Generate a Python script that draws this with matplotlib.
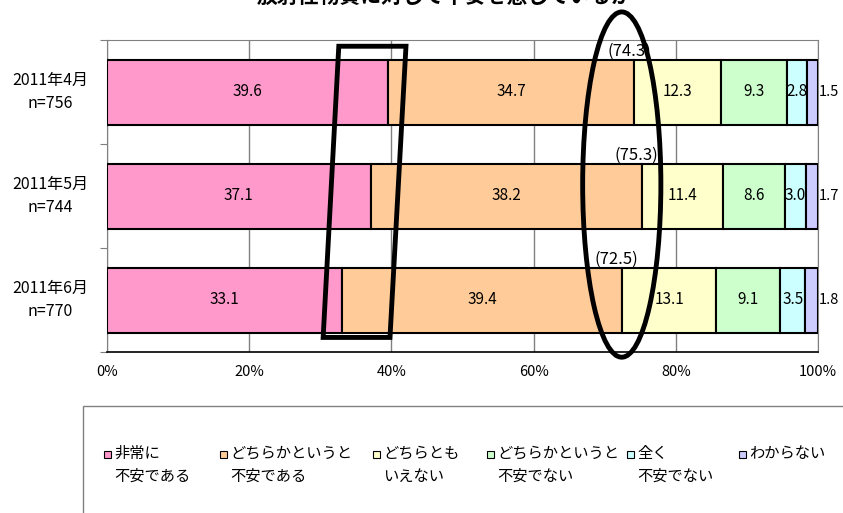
import numpy as np
import matplotlib
matplotlib.use("Agg")
import matplotlib.pyplot as plt
from matplotlib.patches import Rectangle, Ellipse, Polygon

plt.rcParams['font.family'] = ['Noto Sans CJK JP', 'DejaVu Sans']

title = '放射性物質に対して不安を感じているか'
months = ['2011年4月\nn=756', '2011年5月\nn=744', '2011年6月\nn=770']
series = ['非常に\n不安である', 'どちらかというと\n不安である', 'どちらとも\nいえない',
          'どちらかというと\n不安でない', '全く\n不安でない', 'わからない']
very_anxious = [39.6, 37.1, 33.1]
somewhat_anxious = [34.7, 38.2, 39.4]
neither = [12.3, 11.4, 13.1]
somewhat_not = [9.3, 8.6, 9.1]
not_at_all = [2.8, 3.0, 3.5]
dont_know = [1.5, 1.7, 1.8]
anxious_total = [74.3, 75.3, 72.5]
xticks = [0, 20, 40, 60, 80, 100]

colors = ['#FF99CC', '#FFCC99', '#FFFFCC', '#CCFFCC', '#CCFFFF', '#CCCCFF']

vals = np.array([very_anxious, somewhat_anxious, neither,
                 somewhat_not, not_at_all, dont_know]).T
pct = vals / vals.sum(axis=1, keepdims=True) * 100  # 100% stacked

fig = plt.figure(figsize=(8.43, 5.13), dpi=100)
ax = fig.add_axes([107/843, 1-352/513, 711/843, 312/513])

y = np.arange(len(months))
left = np.zeros(len(months))
for k in range(pct.shape[1]):
    ax.barh(y, pct[:, k], left=left, height=0.625, color=colors[k],
            edgecolor='black', linewidth=1.5, zorder=3)
    for i in range(len(months)):
        if k == pct.shape[1] - 1:
            # thin last segment: value goes just right of the bar
            ax.text(left[i] + pct[i, k] + 0.15, y[i], f'{vals[i, k]:.1f}',
                    ha='left', va='center', fontsize=10.5, zorder=4)
        else:
            ax.text(left[i] + pct[i, k] / 2, y[i], f'{vals[i, k]:.1f}',
                    ha='center', va='center', fontsize=11, zorder=4)
    left += pct[:, k]

# cumulative "anxious" share above each bar
for i, v in enumerate(anxious_total):
    ax.text(v - 0.8, y[i] - 0.3125, f'({v:.1f})', ha='center', va='bottom',
            fontsize=12, zorder=5)

ax.set_xlim(0, 100)
ax.set_ylim(2.5, -0.5)
ax.set_xticks(xticks)
ax.set_xticklabels([f'{t}%' for t in xticks], fontsize=10.5)
ax.tick_params(axis='x', length=0, pad=9)
ax.xaxis.grid(True, color='#808080', linewidth=1, zorder=0)

# tick marks between the bars, month labels centred to the left
ax.set_yticks([-0.5, 0.5, 1.5, 2.5])
ax.set_yticklabels([])
ax.tick_params(axis='y', length=5, color='#808080', direction='out')
for i, m in enumerate(months):
    ax.text(-0.08, y[i], m, transform=ax.get_yaxis_transform(),
            ha='center', va='center', multialignment='center',
            fontsize=11.5, linespacing=1.5)

for s in ['top', 'right', 'left']:
    ax.spines[s].set_color('#808080')
ax.spines['bottom'].set_color('black')
ax.spines['bottom'].set_linewidth(1.2)

# highlight shapes
para = Polygon([[32.6, -0.44], [42.05, -0.44], [39.8, 2.36], [30.4, 2.36]],
               closed=True, fill=False, edgecolor='black', linewidth=3.5,
               zorder=6, clip_on=False)
ax.add_patch(para)
oval = Ellipse((72.4, 0.89), 11.0, 3.32, fill=False, edgecolor='black',
               linewidth=3.5, zorder=6, clip_on=False)
ax.add_patch(oval)

# title, mostly outside the top edge
fig.text(445/843, 1 - 8/513, title, ha='center', va='bottom',
         fontsize=15, fontweight='bold')

# legend box
fig.add_artist(Rectangle((83/843, -0.2), 1.0, 0.2 + 1 - 406/513,
                         transform=fig.transFigure, fill=False,
                         edgecolor='#808080', linewidth=1))
leg_x = [104, 220, 373, 487, 627, 739]
for k, name in enumerate(series):
    fig.add_artist(Rectangle((leg_x[k]/843, 1 - 458/513), 7/843, 7/513,
                             transform=fig.transFigure, facecolor=colors[k],
                             edgecolor='black', linewidth=0.8))
    fig.text((leg_x[k] + 10)/843, 1 - 445/513, name, ha='left', va='top',
             fontsize=11, linespacing=1.45)

fig.savefig('out.png', dpi=100)
